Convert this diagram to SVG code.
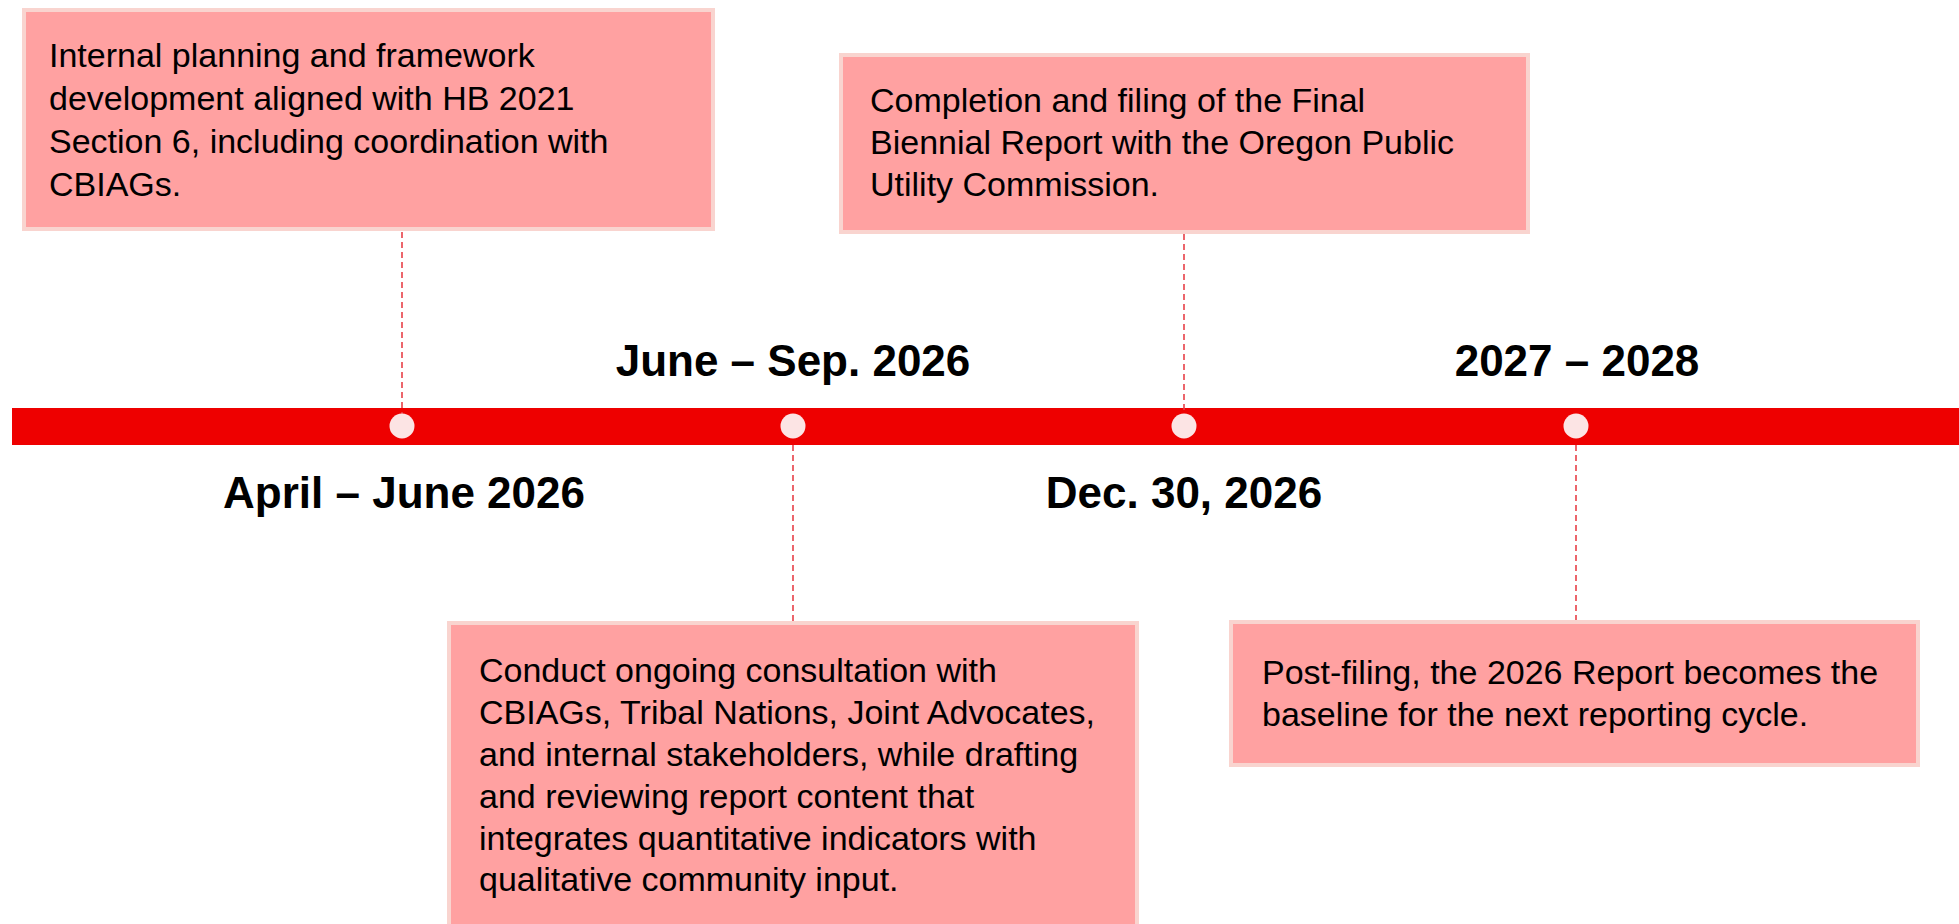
<svg xmlns="http://www.w3.org/2000/svg" width="1959" height="924" viewBox="0 0 1959 924">
  <style>
    .box { fill: #FFA1A1; stroke: #F9D4CF; stroke-width: 4; }
    .body { font-family: "Liberation Sans", Arial, sans-serif; font-size: 34px; fill: #000; }
    .date { font-family: "Liberation Sans", Arial, sans-serif; font-size: 44px; font-weight: bold; fill: #000; text-anchor: middle; }
    .lead { stroke: #E84048; stroke-width: 1.6; stroke-dasharray: 6 4; fill: none; }
    .dot { fill: #FCE4E4; }
  </style>
  <rect width="1959" height="924" fill="#FFFFFF"/>

  <!-- timeline bar -->
  <g id="timeline">
    <rect x="12" y="408" width="1947" height="37" fill="#EE0000"/>
  </g>

  <!-- dashed leaders from milestones to their notes -->
  <g id="connectors">
    <line class="lead" x1="402" y1="232" x2="402" y2="414"/>
    <line class="lead" x1="793" y1="445" x2="793" y2="621"/>
    <line class="lead" x1="1184" y1="234" x2="1184" y2="414"/>
    <line class="lead" x1="1576" y1="445" x2="1576" y2="620"/>
  </g>

  <g id="milestone-1">
    <circle class="dot" cx="402" cy="426" r="12.5"/>
    <text class="date" x="404" y="508">April – June 2026</text>
    <rect class="box" x="24" y="10" width="689" height="219"/>
    <text class="body" x="49" y="67">Internal planning and framework</text>
    <text class="body" x="49" y="110">development aligned with HB 2021</text>
    <text class="body" x="49" y="153">Section 6, including coordination with</text>
    <text class="body" x="49" y="196">CBIAGs.</text>
  </g>

  <g id="milestone-2">
    <circle class="dot" cx="793" cy="426" r="12.5"/>
    <text class="date" x="793" y="376">June – Sep. 2026</text>
    <rect class="box" x="449" y="623" width="688" height="320"/>
    <text class="body" x="479" y="682">Conduct ongoing consultation with</text>
    <text class="body" x="479" y="724">CBIAGs, Tribal Nations, Joint Advocates,</text>
    <text class="body" x="479" y="766">and internal stakeholders, while drafting</text>
    <text class="body" x="479" y="808">and reviewing report content that</text>
    <text class="body" x="479" y="850">integrates quantitative indicators with</text>
    <text class="body" x="479" y="891">qualitative community input.</text>
  </g>

  <g id="milestone-3">
    <circle class="dot" cx="1184" cy="426" r="12.5"/>
    <text class="date" x="1184" y="508">Dec. 30, 2026</text>
    <rect class="box" x="841" y="55" width="687" height="177"/>
    <text class="body" x="870" y="112">Completion and filing of the Final</text>
    <text class="body" x="870" y="154">Biennial Report with the Oregon Public</text>
    <text class="body" x="870" y="196">Utility Commission.</text>
  </g>

  <g id="milestone-4">
    <circle class="dot" cx="1576" cy="426" r="12.5"/>
    <text class="date" x="1577" y="376">2027 – 2028</text>
    <rect class="box" x="1231" y="622" width="687" height="143"/>
    <text class="body" x="1262" y="684">Post-filing, the 2026 Report becomes the</text>
    <text class="body" x="1262" y="726">baseline for the next reporting cycle.</text>
  </g>
</svg>
